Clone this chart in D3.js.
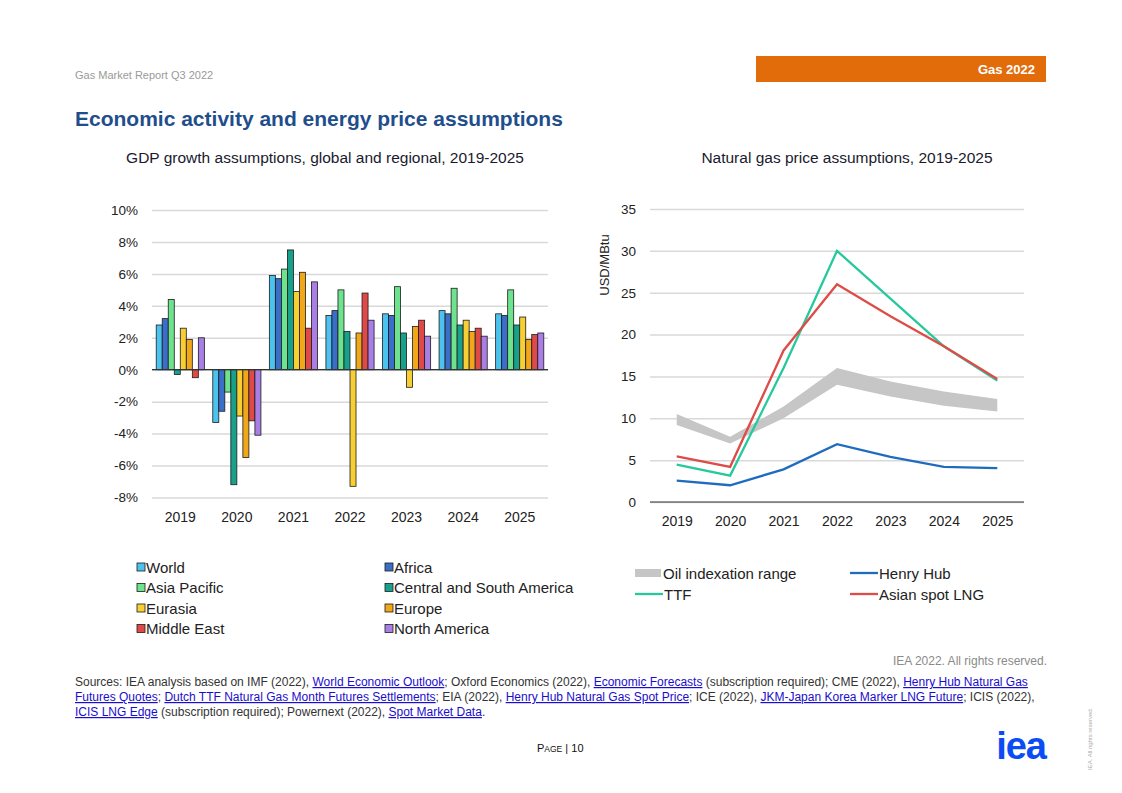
<!DOCTYPE html>
<html>
<head>
<meta charset="utf-8">
<script src="https://cdn.jsdelivr.net/npm/d3@7"></script>
<style>
  body { margin: 0; background: #fff; }
  svg { font-family: "Liberation Sans", Arial, sans-serif; }
</style>
</head>
<body>
<svg width="1122" height="793"></svg>
<script>
// ---- data: GDP growth (%) ----
let years = ['2019', '2020', '2021', '2022', '2023', '2024', '2025']
let regions = ['World', 'Africa', 'Asia Pacific', 'Central and South America', 'Eurasia', 'Europe', 'Middle East', 'North America']
let regionColors = ['#4cc3ef', '#3a6ec8', '#6de38e', '#17a08a', '#f7cf35', '#f0a71a', '#df4a48', '#a97fe6']

let world        = [2.8, -3.3, 5.9, 3.4, 3.5, 3.7, 3.5]
let africa       = [3.2, -2.6, 5.7, 3.7, 3.4, 3.5, 3.4]
let asiaPacific  = [4.4, -1.4, 6.3, 5.0, 5.2, 5.1, 5.0]
let csAmerica    = [-0.3, -7.2, 7.5, 2.4, 2.3, 2.8, 2.8]
let eurasia      = [2.6, -2.9, 4.9, -7.3, -1.1, 3.1, 3.3]
let europe       = [1.9, -5.5, 6.1, 2.3, 2.7, 2.4, 1.9]
let middleEast   = [-0.5, -3.2, 2.6, 4.8, 3.1, 2.6, 2.2]
let northAmerica = [2.0, -4.1, 5.5, 3.1, 2.1, 2.1, 2.3]
let gdpSeries = [world, africa, asiaPacific, csAmerica, eurasia, europe, middleEast, northAmerica]
let gdpTicks = [-8, -6, -4, -2, 0, 2, 4, 6, 8, 10]

// ---- data: gas prices (USD/MBtu) ----
let henryHub  = [2.55, 2.0, 3.9, 6.9, 5.4, 4.2, 4.05]
let ttf       = [4.45, 3.15, 16.0, 30.0, 24.3, 18.6, 14.5]
let asianLng  = [5.45, 4.2, 18.1, 26.0, 22.2, 18.6, 14.7]
let oilLow    = [9.2, 7.0, 10.0, 14.0, 12.6, 11.5, 10.8]
let oilHigh   = [10.5, 7.8, 11.4, 16.0, 14.4, 13.2, 12.3]
let priceTicks = [0, 5, 10, 15, 20, 25, 30, 35]

let svg = d3.select('svg')

// ---- page furniture ----
svg.append('text').attr('x', 75).attr('y', 79).attr('font-size', 11).attr('fill', '#9a9a9a')
   .text('Gas Market Report Q3 2022')
svg.append('rect').attr('x', 756).attr('y', 56).attr('width', 290).attr('height', 26).attr('fill', '#e36c0a')
svg.append('text').attr('x', 1035).attr('y', 74).attr('text-anchor', 'end').attr('font-size', 13)
   .attr('font-weight', 'bold').attr('fill', '#fff').text('Gas 2022')
svg.append('text').attr('x', 75).attr('y', 126).attr('font-size', 21).attr('font-weight', 'bold')
   .attr('fill', '#1f4e8c').text('Economic activity and energy price assumptions')

svg.append('text').attr('x', 325).attr('y', 163).attr('text-anchor', 'middle').attr('font-size', 15.5)
   .attr('fill', '#1a1a2e').text('GDP growth assumptions, global and regional, 2019-2025')
svg.append('text').attr('x', 847).attr('y', 163).attr('text-anchor', 'middle').attr('font-size', 15.5)
   .attr('fill', '#1a1a2e').text('Natural gas price assumptions, 2019-2025')

// ---- left chart ----
let xBand = d3.scaleBand().domain(years).range([152, 548]).paddingInner(0).paddingOuter(0)
let xInner = d3.scaleBand().domain(regions).range([0, xBand.bandwidth()]).paddingOuter(0.7).paddingInner(0)
let yGdp = d3.scaleLinear().domain([-8, 10]).range([497.5, 210])

let yAxisL = d3.axisLeft(yGdp).tickValues(gdpTicks).tickSize(-396).tickFormat(d => d + '%')
let gL = svg.append('g').attr('transform', 'translate(152,0)').call(yAxisL)
gL.select('.domain').remove()
gL.selectAll('.tick line').attr('stroke', '#d9d9d9').attr('stroke-width', 1.5)
gL.selectAll('.tick text').attr('x', -14).attr('font-size', 13.5).attr('fill', '#222')
  .attr('font-family', '"Liberation Sans", Arial, sans-serif')

gdpSeries.forEach((vals, i) => {
  svg.append('g').selectAll('rect')
     .data(vals)
     .enter()
     .append('rect')
     .attr('x', (d, j) => xBand(years[j]) + xInner(regions[i]))
     .attr('width', xInner.bandwidth())
     .attr('y', d => yGdp(Math.max(0, d)))
     .attr('height', d => Math.abs(yGdp(d) - yGdp(0)))
     .attr('fill', regionColors[i])
     .attr('stroke', '#1c1c1c')
     .attr('stroke-width', 0.8)
})

svg.append('line').attr('x1', 152).attr('x2', 548).attr('y1', yGdp(0)).attr('y2', yGdp(0))
   .attr('stroke', '#333').attr('stroke-width', 1.2)

let xAxisL = d3.axisBottom(xBand).tickSize(0)
let gxL = svg.append('g').attr('transform', 'translate(0,509)').call(xAxisL)
gxL.select('.domain').remove()
gxL.selectAll('text').attr('font-size', 14).attr('fill', '#222')
   .attr('font-family', '"Liberation Sans", Arial, sans-serif')

// left legend
regions.forEach((r, i) => {
  let col = i % 2, row = Math.floor(i / 2)
  let lx = col === 0 ? 137 : 385
  let ly = 567 + row * 20.5
  svg.append('rect').attr('x', lx).attr('y', ly - 4).attr('width', 8).attr('height', 8)
     .attr('fill', regionColors[i]).attr('stroke', '#1c1c1c').attr('stroke-width', 0.8)
  svg.append('text').attr('x', lx + 9).attr('y', ly + 5.5).attr('font-size', 15).attr('fill', '#222').text(r)
})

// ---- right chart ----
let xPt = d3.scalePoint().domain(years).range([650, 1024]).padding(0.5)
let yPrice = d3.scaleLinear().domain([0, 35]).range([502, 209])

let yAxisR = d3.axisLeft(yPrice).tickValues(priceTicks).tickSize(-374)
let gR = svg.append('g').attr('transform', 'translate(650,0)').call(yAxisR)
gR.select('.domain').remove()
gR.selectAll('.tick line').attr('stroke', '#d9d9d9').attr('stroke-width', 1.5)
gR.selectAll('.tick text').attr('x', -14).attr('font-size', 13.5).attr('fill', '#222')
  .attr('font-family', '"Liberation Sans", Arial, sans-serif')

svg.append('text').attr('transform', 'translate(609,265) rotate(-90)').attr('text-anchor', 'middle')
   .attr('font-size', 13).attr('fill', '#222').text('USD/MBtu')

svg.append('path')
   .datum(years.map((y, i) => [y, oilLow[i], oilHigh[i]]))
   .attr('fill', '#c6c6c6')
   .attr('d', d3.area().x(d => xPt(d[0])).y0(d => yPrice(d[1])).y1(d => yPrice(d[2])))

svg.append('line').attr('x1', 650).attr('x2', 1024).attr('y1', yPrice(0)).attr('y2', yPrice(0))
   .attr('stroke', '#333').attr('stroke-width', 1.2)

let lineGen = d3.line().x(d => xPt(d[0])).y(d => yPrice(d[1]))
let priceLines = [[henryHub, '#1f6cbf'], [ttf, '#26c99c'], [asianLng, '#dd4c47']]
priceLines.forEach(([vals, color]) => {
  svg.append('path').datum(years.map((y, i) => [y, vals[i]]))
     .attr('fill', 'none').attr('stroke', color).attr('stroke-width', 2.3).attr('d', lineGen)
})

let xAxisR = d3.axisBottom(xPt).tickSize(0)
let gxR = svg.append('g').attr('transform', 'translate(0,513)').call(xAxisR)
gxR.select('.domain').remove()
gxR.selectAll('text').attr('font-size', 14).attr('fill', '#222')
   .attr('font-family', '"Liberation Sans", Arial, sans-serif')

// right legend
svg.append('rect').attr('x', 635).attr('y', 569).attr('width', 26).attr('height', 8).attr('fill', '#c6c6c6')
svg.append('text').attr('x', 663).attr('y', 579).attr('font-size', 15).attr('fill', '#222').text('Oil indexation range')
let lineLegend = [['Henry Hub', '#1f6cbf', 850, 573], ['TTF', '#26c99c', 635, 594], ['Asian spot LNG', '#dd4c47', 850, 594]]
lineLegend.forEach(([label, color, lx, ly]) => {
  svg.append('line').attr('x1', lx).attr('x2', lx + 28).attr('y1', ly).attr('y2', ly)
     .attr('stroke', color).attr('stroke-width', 2.3)
  svg.append('text').attr('x', lx + 29).attr('y', ly + 6).attr('font-size', 15).attr('fill', '#222').text(label)
})

// ---- footer ----
svg.append('text').attr('x', 1047).attr('y', 665).attr('text-anchor', 'end').attr('font-size', 12)
   .attr('fill', '#8a8a8a').text('IEA 2022. All rights reserved.')

let sourceLines = [
  [['Sources: IEA analysis based on IMF (2022), ', 0], ['World Economic Outlook', 1], ['; Oxford Economics (2022), ', 0],
   ['Economic Forecasts', 1], [' (subscription required); CME (2022), ', 0], ['Henry Hub Natural Gas', 1]],
  [['Futures Quotes', 1], ['; ', 0], ['Dutch TTF Natural Gas Month Futures Settlements', 1], ['; EIA (2022), ', 0],
   ['Henry Hub Natural Gas Spot Price', 1], ['; ICE (2022), ', 0], ['JKM-Japan Korea Marker LNG Future', 1], ['; ICIS (2022),', 0]],
  [['ICIS LNG Edge', 1], [' (subscription required); Powernext (2022), ', 0], ['Spot Market Data', 1], ['.', 0]]
]
sourceLines.forEach((parts, i) => {
  let t = svg.append('text').attr('x', 75).attr('y', 686 + i * 15).attr('font-size', 12)
  parts.forEach(([s, link]) => {
    t.append('tspan').text(s).attr('fill', link ? '#1a0dcc' : '#333')
     .attr('text-decoration', link ? 'underline' : null)
  })
})

let pg = svg.append('text').attr('x', 537).attr('y', 752).attr('font-size', 11).attr('fill', '#111')
pg.append('tspan').text('P')
pg.append('tspan').attr('font-size', 8.5).text('AGE')
pg.append('tspan').text(' | 10')

svg.append('text').attr('x', 1046).attr('y', 759).attr('text-anchor', 'end').attr('font-size', 38)
   .attr('font-weight', 'bold').attr('fill', '#0a4cf5').attr('letter-spacing', -1).text('iea')

svg.append('text').attr('transform', 'translate(1092,770) rotate(-90)').attr('font-size', 6)
   .attr('fill', '#aaa').text('IEA. All rights reserved.')
</script>
</body>
</html>
